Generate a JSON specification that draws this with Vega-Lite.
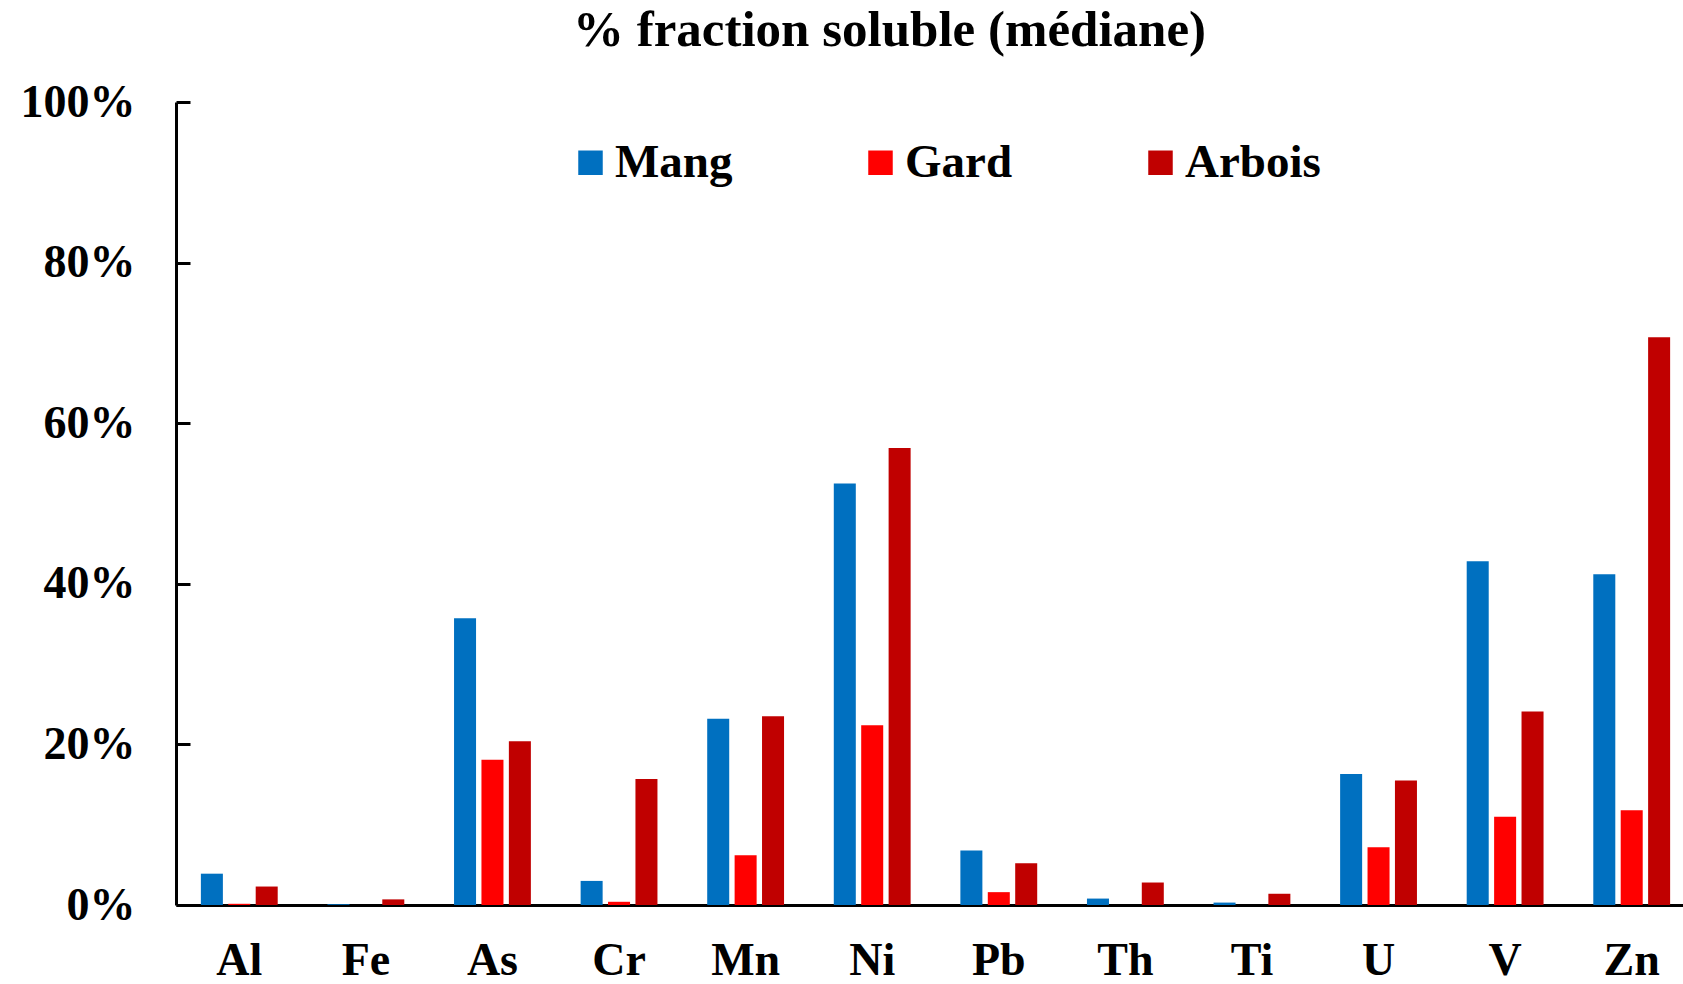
{
  "$schema": "https://vega.github.io/schema/vega-lite/v6.json",
  "width": 1507,
  "height": 803,
  "autosize": {"type": "none"},
  "padding": {"left": 176, "top": 102, "right": 0, "bottom": 79},
  "background": "white",
  "title": {
    "text": "% fraction soluble (médiane)",
    "font": "Liberation Serif",
    "fontSize": 51,
    "fontWeight": "bold",
    "color": "black",
    "anchor": "middle",
    "frame": "group",
    "baseline": "alphabetic",
    "offset": -18,
    "dx": -40
  },
  "config": {"view": {"stroke": null}},
  "data": {
    "values": [
      {"element": "Al", "site": "Mang", "value": 0.039},
      {"element": "Al", "site": "Gard", "value": 0.0015},
      {"element": "Al", "site": "Arbois", "value": 0.023},
      {"element": "Fe", "site": "Mang", "value": 0.001},
      {"element": "Fe", "site": "Gard", "value": 0},
      {"element": "Fe", "site": "Arbois", "value": 0.007},
      {"element": "As", "site": "Mang", "value": 0.357},
      {"element": "As", "site": "Gard", "value": 0.181},
      {"element": "As", "site": "Arbois", "value": 0.204},
      {"element": "Cr", "site": "Mang", "value": 0.030},
      {"element": "Cr", "site": "Gard", "value": 0.004},
      {"element": "Cr", "site": "Arbois", "value": 0.157},
      {"element": "Mn", "site": "Mang", "value": 0.232},
      {"element": "Mn", "site": "Gard", "value": 0.062},
      {"element": "Mn", "site": "Arbois", "value": 0.235},
      {"element": "Ni", "site": "Mang", "value": 0.525},
      {"element": "Ni", "site": "Gard", "value": 0.224},
      {"element": "Ni", "site": "Arbois", "value": 0.569},
      {"element": "Pb", "site": "Mang", "value": 0.068},
      {"element": "Pb", "site": "Gard", "value": 0.016},
      {"element": "Pb", "site": "Arbois", "value": 0.052},
      {"element": "Th", "site": "Mang", "value": 0.008},
      {"element": "Th", "site": "Gard", "value": 0},
      {"element": "Th", "site": "Arbois", "value": 0.028},
      {"element": "Ti", "site": "Mang", "value": 0.003},
      {"element": "Ti", "site": "Gard", "value": 0},
      {"element": "Ti", "site": "Arbois", "value": 0.014},
      {"element": "U", "site": "Mang", "value": 0.163},
      {"element": "U", "site": "Gard", "value": 0.072},
      {"element": "U", "site": "Arbois", "value": 0.155},
      {"element": "V", "site": "Mang", "value": 0.428},
      {"element": "V", "site": "Gard", "value": 0.110},
      {"element": "V", "site": "Arbois", "value": 0.241},
      {"element": "Zn", "site": "Mang", "value": 0.412},
      {"element": "Zn", "site": "Gard", "value": 0.118},
      {"element": "Zn", "site": "Arbois", "value": 0.707}
    ]
  },
  "mark": {"type": "bar"},
  "encoding": {
    "x": {
      "field": "element",
      "type": "nominal",
      "sort": ["Al", "Fe", "As", "Cr", "Mn", "Ni", "Pb", "Th", "Ti", "U", "V", "Zn"],
      "scale": {"range": [0, 1519], "paddingInner": 0.393, "paddingOuter": 0.1965},
      "axis": {
        "title": null,
        "ticks": false,
        "domainColor": "black",
        "domainWidth": 3,
        "labelAngle": 0,
        "labelPadding": 33,
        "labelFont": "Liberation Serif",
        "labelFontSize": 46,
        "labelFontWeight": "bold",
        "labelColor": "black"
      }
    },
    "xOffset": {
      "field": "site",
      "type": "nominal",
      "scale": {"domain": ["Mang", "Gard", "Arbois"], "paddingInner": 0.197, "paddingOuter": 0}
    },
    "y": {
      "field": "value",
      "type": "quantitative",
      "scale": {"domain": [0, 1], "nice": false},
      "axis": {
        "title": null,
        "format": ".0%",
        "values": [0, 0.2, 0.4, 0.6, 0.8, 1],
        "grid": false,
        "domainColor": "black",
        "domainWidth": 3,
        "tickColor": "black",
        "tickWidth": 3,
        "tickSize": -14,
        "labelPadding": 55,
        "labelFont": "Liberation Serif",
        "labelFontSize": 46,
        "labelFontWeight": "bold",
        "labelColor": "black"
      }
    },
    "color": {
      "field": "site",
      "type": "nominal",
      "scale": {"domain": ["Mang", "Gard", "Arbois"], "range": ["#0070C0", "#FF0000", "#C00000"]},
      "legend": {
        "title": null,
        "orient": "none",
        "legendX": 391,
        "legendY": 37,
        "direction": "horizontal",
        "symbolType": "square",
        "symbolSize": 600,
        "symbolStrokeWidth": 0,
        "symbolOpacity": 1,
        "labelFont": "Liberation Serif",
        "labelFontSize": 47,
        "labelFontWeight": "bold",
        "labelColor": "black",
        "labelOffset": 1,
        "labelLimit": 400,
        "columnPadding": 124,
        "padding": 0
      }
    }
  }
}
